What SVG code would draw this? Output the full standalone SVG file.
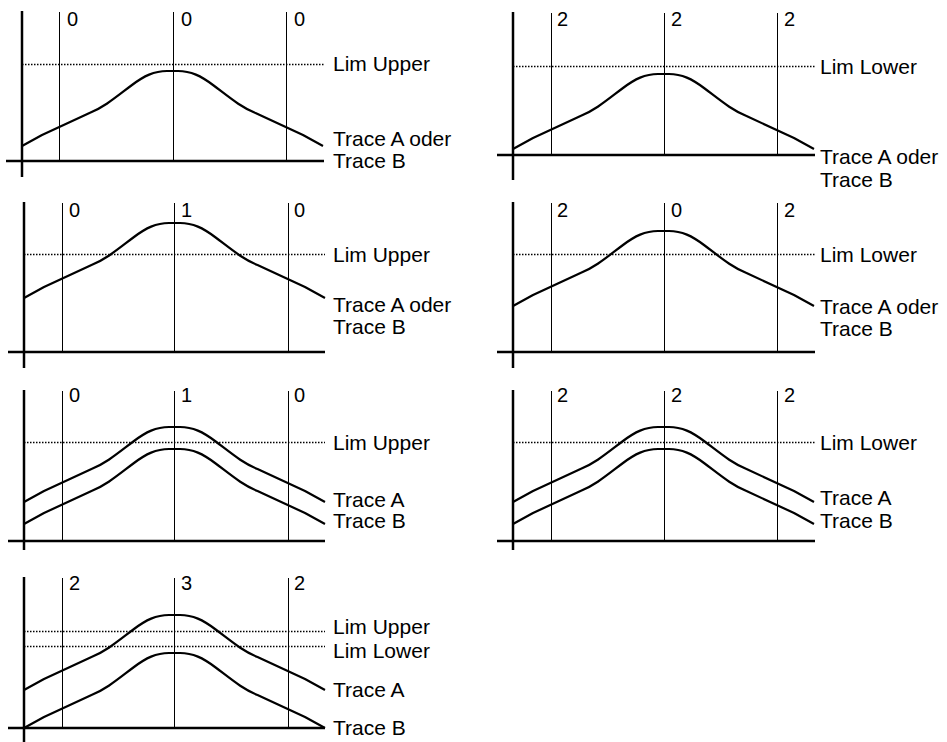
<svg xmlns="http://www.w3.org/2000/svg" width="947" height="742" viewBox="0 0 947 742">
<style>
.ax{stroke:#000;stroke-width:2.5;fill:none}
.gr{stroke:#000;stroke-width:1;fill:none}
.lim{stroke:#000;stroke-width:1.3;stroke-dasharray:1.5 1.5;fill:none}
.tr{stroke:#000;stroke-width:2.2;fill:none;stroke-linejoin:round}
text{font-family:"Liberation Sans",Arial,sans-serif;font-size:21px;fill:#000}
text.n{font-size:20px}
</style>
<defs>
<path id="bell" d="M0,0 L20,-11 L67.5,-33 C82.5,-39 94,-49 110,-61 C122,-70 132,-75 145,-75 L156,-75 C169,-75 179,-70 191,-61 C207,-49 218.5,-39 233.5,-33 L281,-11 L301,0"/>
</defs>
<rect width="947" height="742" fill="#fff"/>

<g id="panel1">
<line class="ax" x1="22" y1="11" x2="22" y2="177"/>
<line class="ax" x1="6" y1="161" x2="324" y2="161"/>
<line class="gr" x1="59.5" y1="12" x2="59.5" y2="161"/>
<line class="gr" x1="173.5" y1="12" x2="173.5" y2="161"/>
<line class="gr" x1="286.5" y1="12" x2="286.5" y2="161"/>
<line class="lim" x1="22" y1="64.5" x2="324" y2="64.5"/>
<use href="#bell" class="tr" x="22" y="146"/>
<text class="n" x="67" y="26">0</text><text class="n" x="181" y="26">0</text><text class="n" x="294" y="26">0</text>
<text x="333" y="71">Lim Upper</text>
<text x="333" y="146">Trace A oder</text>
<text x="333" y="168">Trace B</text>
</g>

<g id="panel2">
<line class="ax" x1="513" y1="12" x2="513" y2="180"/>
<line class="ax" x1="497" y1="155" x2="815" y2="155"/>
<line class="gr" x1="551.5" y1="13" x2="551.5" y2="155"/>
<line class="gr" x1="664.5" y1="13" x2="664.5" y2="155"/>
<line class="gr" x1="777.5" y1="13" x2="777.5" y2="155"/>
<line class="lim" x1="513" y1="66.5" x2="815" y2="66.5"/>
<use href="#bell" class="tr" x="513" y="149"/>
<text class="n" x="557" y="26">2</text><text class="n" x="671" y="26">2</text><text class="n" x="784" y="26">2</text>
<text x="820" y="74">Lim Lower</text>
<text x="820" y="164">Trace A oder</text>
<text x="820" y="187">Trace B</text>
</g>

<g id="panel3">
<line class="ax" x1="24" y1="202" x2="24" y2="368"/>
<line class="ax" x1="8" y1="352" x2="325" y2="352"/>
<line class="gr" x1="62.5" y1="203" x2="62.5" y2="352"/>
<line class="gr" x1="174.5" y1="203" x2="174.5" y2="352"/>
<line class="gr" x1="288.5" y1="203" x2="288.5" y2="352"/>
<line class="lim" x1="24" y1="254.5" x2="325" y2="254.5"/>
<use href="#bell" class="tr" x="24" y="298"/>
<text class="n" x="69" y="217">0</text><text class="n" x="181" y="217">1</text><text class="n" x="294" y="217">0</text>
<text x="333" y="262">Lim Upper</text>
<text x="333" y="312">Trace A oder</text>
<text x="333" y="334">Trace B</text>
</g>

<g id="panel4">
<line class="ax" x1="513" y1="202" x2="513" y2="368"/>
<line class="ax" x1="497" y1="352" x2="815" y2="352"/>
<line class="gr" x1="551.5" y1="203" x2="551.5" y2="352"/>
<line class="gr" x1="664.5" y1="203" x2="664.5" y2="352"/>
<line class="gr" x1="777.5" y1="203" x2="777.5" y2="352"/>
<line class="lim" x1="513" y1="254.5" x2="815" y2="254.5"/>
<use href="#bell" class="tr" x="513" y="306"/>
<text class="n" x="557" y="217">2</text><text class="n" x="671" y="217">0</text><text class="n" x="784" y="217">2</text>
<text x="820" y="262">Lim Lower</text>
<text x="820" y="314">Trace A oder</text>
<text x="820" y="336">Trace B</text>
</g>

<g id="panel5">
<line class="ax" x1="24" y1="390" x2="24" y2="550"/>
<line class="ax" x1="8" y1="541" x2="325" y2="541"/>
<line class="gr" x1="62.5" y1="391" x2="62.5" y2="541"/>
<line class="gr" x1="174.5" y1="391" x2="174.5" y2="541"/>
<line class="gr" x1="288.5" y1="391" x2="288.5" y2="541"/>
<line class="lim" x1="24" y1="442.5" x2="325" y2="442.5"/>
<use href="#bell" class="tr" x="24" y="502"/>
<use href="#bell" class="tr" x="24" y="524"/>
<text class="n" x="69" y="402">0</text><text class="n" x="181" y="402">1</text><text class="n" x="294" y="402">0</text>
<text x="333" y="450">Lim Upper</text>
<text x="333" y="507">Trace A</text>
<text x="333" y="528">Trace B</text>
</g>

<g id="panel6">
<line class="ax" x1="513" y1="390" x2="513" y2="550"/>
<line class="ax" x1="497" y1="541" x2="815" y2="541"/>
<line class="gr" x1="551.5" y1="391" x2="551.5" y2="541"/>
<line class="gr" x1="664.5" y1="391" x2="664.5" y2="541"/>
<line class="gr" x1="777.5" y1="391" x2="777.5" y2="541"/>
<line class="lim" x1="513" y1="442.5" x2="815" y2="442.5"/>
<use href="#bell" class="tr" x="513" y="502"/>
<use href="#bell" class="tr" x="513" y="524"/>
<text class="n" x="557" y="402">2</text><text class="n" x="671" y="402">2</text><text class="n" x="784" y="402">2</text>
<text x="820" y="450">Lim Lower</text>
<text x="820" y="505">Trace A</text>
<text x="820" y="528">Trace B</text>
</g>

<g id="panel7">
<line class="ax" x1="24" y1="577" x2="24" y2="742"/>
<line class="ax" x1="8" y1="728" x2="325" y2="728"/>
<line class="gr" x1="62.5" y1="578" x2="62.5" y2="728"/>
<line class="gr" x1="174.5" y1="578" x2="174.5" y2="728"/>
<line class="gr" x1="288.5" y1="578" x2="288.5" y2="728"/>
<line class="lim" x1="24" y1="631.5" x2="325" y2="631.5"/>
<line class="lim" x1="24" y1="646.5" x2="325" y2="646.5"/>
<use href="#bell" class="tr" x="24" y="690"/>
<use href="#bell" class="tr" x="24" y="728"/>
<text class="n" x="69" y="590">2</text><text class="n" x="181" y="590">3</text><text class="n" x="294" y="590">2</text>
<text x="333" y="634">Lim Upper</text>
<text x="333" y="658">Lim Lower</text>
<text x="333" y="697">Trace A</text>
<text x="333" y="735">Trace B</text>
</g>
</svg>
